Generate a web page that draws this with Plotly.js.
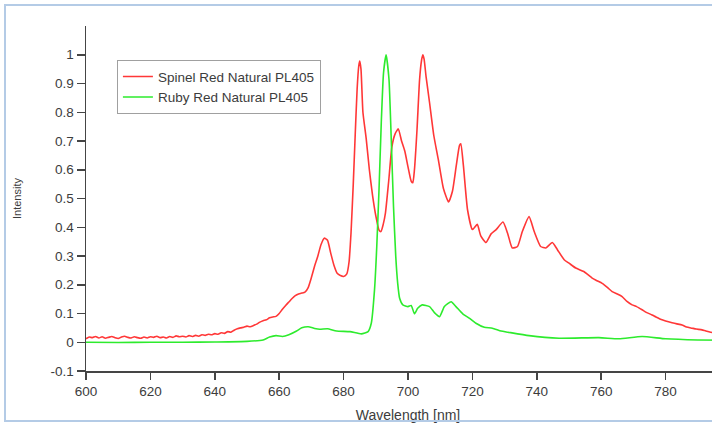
<!DOCTYPE html>
<html>
<head>
<meta charset="utf-8">
<script src="https://cdn.plot.ly/plotly-3.0.1.min.js"></script>
<style>
  html, body { margin: 0; padding: 0; background: #fff; overflow: hidden; width: 712px; height: 424px; }
  #chart { position: absolute; left: 0; top: 0; }
  #frame { position: absolute; left: 4px; top: 4px; width: 760px; height: 418px; border: 2px solid #b4cbe6; pointer-events: none; box-sizing: border-box; }
</style>
</head>
<body>
<div id="chart"></div>
<div id="frame"></div>
<script>
// Spinel Red Natural PL405 (red)
const spinelWavelength = [600,601,602,603,604,605,606,607,608,609,610,611,612,613,614,615,616,617,618,619,620,621,622,623,624,625,626,627,628,629,630,631,632,633,634,635,636,637,638,639,640,641,642,643,644,645,646,647,648,649,650,651,652,653,654,655,656,657,658,659,660,661,662,663,664,665,666,667,668,669,670,671,672,673,674,675,676,677,678,679,680,681,681.7,682.3,683,683.6,684.2,684.7,685,685.4,686,687,688,689,690,691,691.6,692.3,693,694,695,696,697,698,699,700,701,701.5,702,702.8,703.6,704.2,704.6,705,705.6,706.7,708,709.5,711,712.6,713.8,715,716,716.4,717.2,718.5,720,721.5,722.6,724.2,725.8,727.3,729.5,730.9,732.4,734,735.5,737.6,739.2,741.2,742.8,744.8,746.4,748.5,750,752.1,754.6,757.2,758.5,760.3,762,763.4,765,766.5,768,769.6,771,772.7,774,775.8,777,778.9,780,782,783.5,785.1,786.5,788.2,789.5,791.3,792.5,794,796,798,800];
const spinelIntensity = [0.012,0.018,0.016,0.02,0.015,0.019,0.014,0.017,0.02,0.016,0.013,0.018,0.021,0.017,0.015,0.019,0.016,0.014,0.018,0.015,0.019,0.017,0.021,0.016,0.018,0.015,0.02,0.017,0.022,0.019,0.021,0.018,0.023,0.02,0.024,0.021,0.026,0.024,0.028,0.026,0.03,0.028,0.033,0.031,0.037,0.035,0.042,0.047,0.05,0.052,0.056,0.054,0.058,0.063,0.07,0.075,0.078,0.085,0.088,0.09,0.1,0.115,0.128,0.14,0.152,0.162,0.168,0.171,0.174,0.19,0.225,0.265,0.3,0.34,0.362,0.355,0.31,0.268,0.24,0.232,0.229,0.238,0.28,0.38,0.55,0.72,0.88,0.96,0.978,0.95,0.8,0.71,0.6,0.51,0.44,0.39,0.385,0.41,0.45,0.56,0.68,0.725,0.742,0.7,0.665,0.61,0.56,0.555,0.6,0.74,0.914,0.98,1.0,0.985,0.925,0.833,0.72,0.63,0.535,0.488,0.525,0.615,0.685,0.69,0.615,0.46,0.392,0.41,0.37,0.347,0.377,0.391,0.418,0.38,0.328,0.333,0.385,0.437,0.385,0.333,0.328,0.347,0.322,0.287,0.275,0.258,0.246,0.223,0.215,0.205,0.19,0.176,0.168,0.159,0.142,0.13,0.124,0.113,0.104,0.095,0.088,0.078,0.074,0.068,0.064,0.06,0.053,0.049,0.046,0.043,0.039,0.035,0.033,0.031,0.029];

// Ruby Red Natural PL405 (green)
const rubyWavelength = [600,610,620,630,640,650,655,657,659,661,663,665.4,667,669,671,672.6,675,677.8,682,685.5,687.6,688.6,689.6,690.3,691,691.7,692.4,693.2,694.1,694.8,695.5,696.2,696.8,697.4,698.4,700,701,702,703,704.4,706.7,708.2,709.8,711.3,713.4,714.9,717,719,721.1,723.7,726.2,728.9,731,737.6,746.9,759.3,765.5,772.7,780,790,800];
const rubyIntensity = [0.0,-0.001,0.0,0.0,0.001,0.003,0.008,0.018,0.023,0.02,0.026,0.039,0.05,0.054,0.048,0.045,0.047,0.039,0.037,0.029,0.037,0.066,0.182,0.333,0.531,0.763,0.937,1.0,0.914,0.705,0.472,0.298,0.205,0.153,0.13,0.124,0.128,0.099,0.118,0.13,0.124,0.103,0.089,0.124,0.141,0.124,0.099,0.084,0.066,0.052,0.049,0.039,0.035,0.023,0.014,0.016,0.012,0.02,0.012,0.008,0.007];

const seriesNames = ['Spinel Red Natural PL405', 'Ruby Red Natural PL405'];
const xTicks = [600,620,640,660,680,700,720,740,760,780,800];
const yTickVals = [-0.1,0,0.1,0.2,0.3,0.4,0.5,0.6,0.7,0.8,0.9,1];
const yTickText = ['-0.1','0','0.1','0.2','0.3','0.4','0.5','0.6','0.7','0.8','0.9','1'];

const axisColor = '#454545';
const textColor = '#3c3c3c';
const fontFamily = 'Arial, "Liberation Sans", sans-serif';

const traces = [
  { x: spinelWavelength, y: spinelIntensity, name: seriesNames[0], type: 'scatter', mode: 'lines',
    line: { color: 'rgb(255,55,55)', width: 1.6, shape: 'spline', smoothing: 0.5 } },
  { x: rubyWavelength, y: rubyIntensity, name: seriesNames[1], type: 'scatter', mode: 'lines',
    line: { color: 'rgb(45,235,45)', width: 1.6, shape: 'spline', smoothing: 0.5 } }
];

const layout = {
  width: 730, height: 424,
  margin: { l: 86, r: 0, t: 26, b: 53 },
  paper_bgcolor: '#fff', plot_bgcolor: '#fff',
  font: { family: fontFamily, size: 13.5, color: textColor },
  showlegend: true,
  legend: {
    x: 0.048, y: 0.901, xanchor: 'left', yanchor: 'top',
    bgcolor: '#fff', bordercolor: '#a0a0a0', borderwidth: 1,
    font: { family: fontFamily, size: 13.5, color: textColor },
    itemwidth: 30, tracegroupgap: 0
  },
  xaxis: {
    range: [600, 800], tickvals: xTicks, ticks: 'outside', ticklen: 7, tickwidth: 1.5, tickcolor: axisColor,
    showline: true, linecolor: axisColor, linewidth: 1.5, showgrid: false, zeroline: false,
    tickfont: { family: fontFamily, size: 13.5, color: textColor },
    title: { text: 'Wavelength [nm]', font: { family: fontFamily, size: 14, color: textColor }, standoff: 12 },
    automargin: false
  },
  yaxis: {
    range: [-0.1, 1.1], tickvals: yTickVals, ticktext: yTickText, ticks: 'outside', ticklen: 8, tickwidth: 1.5, tickcolor: axisColor,
    showline: true, linecolor: axisColor, linewidth: 1.5, showgrid: false, zeroline: false,
    tickfont: { family: fontFamily, size: 13.5, color: textColor },
    title: { text: 'Intensity', font: { family: fontFamily, size: 11, color: textColor }, standoff: 26 },
    automargin: false
  }
};

Plotly.newPlot('chart', traces, layout, { displayModeBar: false, staticPlot: true });
</script>
</body>
</html>
